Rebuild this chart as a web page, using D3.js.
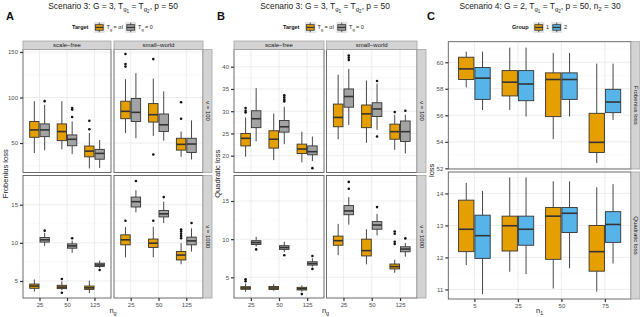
<!DOCTYPE html>
<html>
<head>
<meta charset="utf-8">
<script src="https://cdn.jsdelivr.net/npm/d3@7"></script>
<style>
  body { margin: 0; background: #fff; }
  svg { display: block; font-family: "Liberation Sans", Arial, sans-serif; }
</style>
</head>
<body>
<div id="chart"></div>
<script>
// categories
const nG = ["25", "50", "125"];
const n1 = ["5", "25", "50", "75"];
const targets = ["aI", "0"];
const groups = ["1", "2"];
const netTypes = ["scale−free", "small−world"];
const nuLabels = ["ν = 100", "ν = 1000"];
const lossLabels = ["Frobenius loss", "Quadratic loss"];

// box stats: [lower whisker, Q1, median, Q3, upper whisker, outliers]
// order: n = 25 (αI, 0), n = 50 (αI, 0), n = 125 (αI, 0)
const froSF100 = [
  [39, 56.3, 64.4, 73.7, 95.9, []],
  [42, 57, 64.4, 71, 92, [96]],
  [43, 52.6, 62.6, 71, 96, []],
  [37.8, 47, 54.1, 58.9, 73.7, [78.6, 86.7, 88.5]],
  [22, 34.8, 41.1, 46.7, 61, [65.2, 74.4]],
  [22.6, 32.2, 38.6, 43, 53.3, []]
];
const froSW100 = [
  [60.8, 76.7, 84.8, 95.9, 120, [134.1, 136.7, 147.8]],
  [55.2, 73.7, 83.7, 98.9, 126.7, []],
  [57.8, 73, 81.1, 93.3, 120.8, [37.4, 142.2]],
  [52.6, 62.6, 70, 81.9, 106.7, []],
  [34.8, 42.2, 48.5, 55.2, 62.6, [76.7, 94.8]],
  [31.9, 39.6, 48.9, 55.2, 74.8, []]
];
const froSF1000 = [
  [3.6, 4.04, 4.34, 4.6, 5.2, []],
  [9.6, 10.1, 10.4, 10.7, 11.3, [11.6]],
  [3.8, 4.0, 4.2, 4.43, 4.95, [5.26, 3.46]],
  [8.7, 9.3, 9.6, 9.87, 10.3, [10.6]],
  [3.4, 3.9, 4.1, 4.34, 5.04, []],
  [6.7, 6.9, 7.1, 7.33, 7.67, [6.45]]
];
const froSW1000 = [
  [8.1, 9.74, 10.4, 11.05, 12.1, [12.9]],
  [14.0, 14.7, 15.4, 16.0, 16.9, [18.1]],
  [8.1, 9.4, 9.96, 10.5, 12.1, [12.9]],
  [12.6, 13.4, 13.8, 14.25, 15.4, [16.0]],
  [7.2, 7.76, 8.4, 8.86, 9.96, [10.6, 10.9, 11.2, 11.5, 11.75]],
  [8.86, 9.74, 10.26, 10.75, 11.9, [12.6]]
];
const quaSF100 = [
  [19.8, 22.2, 23.9, 25.0, 28.6, [29.7, 30.1, 30.7]],
  [23.2, 26.3, 28.3, 30.1, 35.2, []],
  [19.0, 21.7, 23.7, 25.6, 29.5, []],
  [22.6, 25.3, 26.5, 27.9, 31.0, [32.2, 32.6, 33.1, 33.6]],
  [18.5, 20.5, 21.5, 22.6, 25.4, []],
  [18.8, 20.2, 20.9, 22.2, 24.3, [17.2]]
];
const quaSW100 = [
  [23.7, 26.5, 28.6, 31.6, 38.2, []],
  [26.9, 30.9, 33.3, 35.0, 39.5, [41.5, 42.0, 42.5]],
  [22.9, 26.3, 29.4, 31.4, 36.9, []],
  [25.8, 28.8, 30.5, 31.9, 36.2, [36.8, 24.3]],
  [21.3, 23.7, 25.4, 27.1, 29.2, [29.8]],
  [20.5, 23.2, 25.4, 27.8, 29.2, [30.1]]
];
const quaSF1000 = [
  [3.1, 3.43, 3.6, 3.77, 4.2, [4.48, 4.74]],
  [9.0, 9.3, 9.55, 9.8, 10.3, [8.66]],
  [3.25, 3.4, 3.6, 3.8, 4.1, []],
  [8.3, 8.66, 8.9, 9.14, 9.66, [7.9]],
  [3.12, 3.34, 3.5, 3.69, 3.95, [2.8]],
  [6.4, 6.6, 6.8, 7.04, 7.5, [7.8, 6.1]]
];
const quaSW1000 = [
  [7.9, 9.2, 9.8, 10.4, 12.0, []],
  [11.9, 13.2, 13.7, 14.4, 15.5, [16.6, 17.5]],
  [6.7, 7.8, 8.5, 10.0, 11.3, []],
  [10.5, 11.3, 11.85, 12.3, 13.3, [14.2]],
  [5.6, 6.1, 6.4, 6.74, 7.3, [9.36, 9.66, 10.7, 11.0]],
  [7.7, 8.35, 8.7, 9.0, 9.5, [10.1]]
];
// scenario 4, order: n1 = 5 (group 1, 2), 25, 50, 75
const s4Fro = [
  [58.1, 58.7, 59.5, 60.38, 60.8, []],
  [56.4, 57.2, 58.8, 59.6, 60.8, []],
  [56.4, 57.46, 58.5, 59.37, 61.1, []],
  [55.9, 57.1, 58.36, 59.37, 61.1, []],
  [54.2, 55.9, 58.7, 59.2, 60.7, []],
  [55.9, 57.2, 58.7, 59.2, 60.7, []],
  [52.4, 53.2, 53.96, 56.15, 59.9, []],
  [55.65, 56.2, 57.0, 57.96, 59.9, []]
];
const s4Qua = [
  [11.76, 12.18, 12.88, 13.79, 14.33, []],
  [10.85, 11.97, 12.68, 13.32, 14.08, []],
  [11.55, 12.2, 12.99, 13.29, 14.5, []],
  [11.48, 12.38, 12.88, 13.29, 14.5, []],
  [11.03, 11.94, 13.29, 13.56, 14.38, []],
  [11.66, 12.78, 13.38, 13.56, 14.38, []],
  [10.93, 11.57, 12.18, 13.0, 14.19, []],
  [11.81, 12.47, 13.03, 13.43, 14.29, []]
];
// y ticks
const ticksFro100 = [50, 100, 150];
const ticksFro1000 = [5, 10, 15];
const ticksQua100 = [20, 25, 30, 35, 40];
const ticksQua1000 = [5, 10, 15];
const ticksS4Fro = [52, 54, 56, 58, 60];
const ticksS4Qua = [11, 12, 13, 14];

const orange = "#E69F00", grey = "#A3A3A3", blue = "#56B4E9";
const fillTarget = d3.scaleOrdinal().domain(targets).range([orange, grey]);
const fillGroup = d3.scaleOrdinal().domain(groups).range([orange, blue]);

const svg = d3.select("#chart").append("svg")
    .attr("width", 640)
    .attr("height", 317);

function toBoxes(stats, cats, grps) {
  return stats.map((s, i) => ({
    cat: cats[Math.floor(i / grps.length)],
    grp: grps[i % grps.length],
    lo: s[0], q1: s[1], med: s[2], q3: s[3], hi: s[4], out: s[5]
  }));
}

// text with sub / sub-sub scripts, parts = [[text, level], ...]
function rich(sel, parts, size) {
  let cur = 0;
  parts.forEach(([t, lvl]) => {
    const off = [0, 0.28, 0.48][lvl] * size;
    sel.append("tspan")
        .attr("dy", off - cur)
        .attr("font-size", [1, 0.72, 0.55][lvl] * size)
        .text(t);
    cur = off;
  });
}

function facet(g, x0, x1, y0, y1, domain, ticks, cats, grps, fill, boxes, showY, showX) {
  const x = d3.scalePoint().domain(cats).range([x0, x1]).padding(0.6);
  const dodge = d3.scaleBand().domain(grps)
      .range([-0.375 * x.step(), 0.375 * x.step()]);
  const y = d3.scaleLinear().domain(domain).range([y1, y0]);

  g.append("rect").attr("x", x0).attr("y", y0)
      .attr("width", x1 - x0).attr("height", y1 - y0).attr("fill", "#fff");

  // minor grid at midpoints
  const step = ticks[1] - ticks[0];
  const minor = d3.range(ticks[0] - step / 2, domain[1], step)
      .filter(v => v > domain[0] && v < domain[1]);
  g.append("g").selectAll("line").data(minor).join("line")
      .attr("x1", x0).attr("x2", x1)
      .attr("y1", d => y(d)).attr("y2", d => y(d))
      .attr("stroke", "#f4f4f4").attr("stroke-width", 0.5);
  g.append("g").selectAll("line").data(ticks).join("line")
      .attr("x1", x0).attr("x2", x1)
      .attr("y1", d => y(d)).attr("y2", d => y(d))
      .attr("stroke", "#e8e8e8").attr("stroke-width", 0.8);
  g.append("g").selectAll("line").data(cats).join("line")
      .attr("x1", d => x(d)).attr("x2", d => x(d))
      .attr("y1", y0).attr("y2", y1)
      .attr("stroke", "#e8e8e8").attr("stroke-width", 0.8);

  const bw = dodge.bandwidth();
  const box = g.append("g").selectAll("g").data(boxes).join("g")
      .attr("transform", d => `translate(${x(d.cat) + dodge(d.grp) + bw / 2},0)`);

  box.append("line")
      .attr("y1", d => y(d.hi)).attr("y2", d => y(d.q3))
      .attr("stroke", "#333").attr("stroke-width", 0.9);
  box.append("line")
      .attr("y1", d => y(d.q1)).attr("y2", d => y(d.lo))
      .attr("stroke", "#333").attr("stroke-width", 0.9);
  box.append("rect")
      .attr("x", -bw / 2 + 0.5).attr("width", bw - 1)
      .attr("y", d => y(d.q3))
      .attr("height", d => Math.max(0.5, y(d.q1) - y(d.q3)))
      .attr("fill", d => fill(d.grp))
      .attr("stroke", "#333").attr("stroke-width", 0.9);
  box.append("line")
      .attr("x1", -bw / 2 + 0.5).attr("x2", bw / 2 - 0.5)
      .attr("y1", d => y(d.med)).attr("y2", d => y(d.med))
      .attr("stroke", "#333").attr("stroke-width", 1.6);
  box.selectAll("circle").data(d => d.out).join("circle")
      .attr("cy", d => y(d)).attr("r", 1.3).attr("fill", "#111");

  g.append("rect").attr("x", x0).attr("y", y0)
      .attr("width", x1 - x0).attr("height", y1 - y0)
      .attr("fill", "none").attr("stroke", "#5c5c5c").attr("stroke-width", 0.9);

  if (showY) {
    const ax = g.append("g").attr("transform", `translate(${x0},0)`)
        .call(d3.axisLeft(y).tickValues(ticks).tickFormat(d3.format("d"))
            .tickSize(3).tickPadding(2));
    styleAxis(ax);
  }
  if (showX) {
    const ax = g.append("g").attr("transform", `translate(0,${y1})`)
        .call(d3.axisBottom(x).tickSize(3).tickPadding(2));
    styleAxis(ax);
  }
}

function styleAxis(ax) {
  ax.attr("font-family", null).attr("font-size", null);
  ax.select(".domain").remove();
  ax.selectAll(".tick line").attr("stroke", "#333").attr("stroke-width", 1.2);
  ax.selectAll(".tick text").attr("fill", "#4d4d4d").attr("font-size", 6);
}

function topStrip(g, x0, x1, y0, y1, label) {
  g.append("rect").attr("x", x0).attr("y", y0)
      .attr("width", x1 - x0).attr("height", y1 - y0)
      .attr("fill", "#d3d3d3").attr("stroke", "#a5a5a5").attr("stroke-width", 0.8);
  g.append("text").attr("x", (x0 + x1) / 2).attr("y", (y0 + y1) / 2)
      .attr("text-anchor", "middle").attr("dominant-baseline", "central")
      .attr("font-size", 6).attr("fill", "#1a1a1a").text(label);
}

function sideStrip(g, x0, x1, y0, y1, label) {
  g.append("rect").attr("x", x0).attr("y", y0)
      .attr("width", x1 - x0).attr("height", y1 - y0)
      .attr("fill", "#d3d3d3").attr("stroke", "#a5a5a5").attr("stroke-width", 0.8);
  g.append("text")
      .attr("transform", `translate(${(x0 + x1) / 2},${(y0 + y1) / 2}) rotate(90)`)
      .attr("text-anchor", "middle").attr("dominant-baseline", "central")
      .attr("font-size", 6).attr("fill", "#1a1a1a").text(label);
}

function legendKey(g, x, y, fill) {
  g.append("rect").attr("x", x).attr("y", y).attr("width", 11.5).attr("height", 11.5)
      .attr("fill", "#e4e4e4").attr("stroke", "#fff").attr("stroke-width", 0.6);
  g.append("line").attr("x1", x + 5.75).attr("x2", x + 5.75)
      .attr("y1", y + 1).attr("y2", y + 10.5).attr("stroke", "#333").attr("stroke-width", 0.8);
  g.append("rect").attr("x", x + 1.8).attr("y", y + 3).attr("width", 7.9).attr("height", 5.5)
      .attr("fill", fill).attr("stroke", "#333").attr("stroke-width", 0.8);
  g.append("line").attr("x1", x + 1.8).attr("x2", x + 9.7)
      .attr("y1", y + 5.75).attr("y2", y + 5.75).attr("stroke", "#333").attr("stroke-width", 1.3);
}

const title3 = [["Scenario 3: G = 3, T", 0], ["g", 1], ["1", 2], [" = T", 0], ["g", 1], ["2", 2], [", p = 50", 0]];
const title4 = [["Scenario 4: G = 2, T", 0], ["g", 1], ["1", 2], [" = T", 0], ["g", 1], ["2", 2], [", p = 50, n", 0], ["2", 1], [" = 30", 0]];

const panels = [
  { letter: "A", lx: 6, title: title3, tx: 113, cols: [[23, 111], [114, 203]], strip: [203, 212],
    rows: [[49.5, 172.5], [175.5, 298]], domains: [[17.6, 152.75], [2.77, 18.83]],
    ticks: [ticksFro100, ticksFro1000], data: [[froSF100, froSW100], [froSF1000, froSW1000]],
    colLabels: netTypes, rowLabels: nuLabels, cats: nG, grps: targets, fill: fillTarget,
    ytitle: lossLabels[0], ytx: 7.5, xsub: "g", legend: { x: 72, title: "Target" } },
  { letter: "B", lx: 217, title: title3, tx: 325, cols: [[234, 324], [326.5, 417]], strip: [417, 426],
    rows: [[49.5, 172.5], [175.5, 298]], domains: [[16.22, 43.87], [2.29, 18.34]],
    ticks: [ticksQua100, ticksQua1000], data: [[quaSF100, quaSW100], [quaSF1000, quaSW1000]],
    colLabels: netTypes, rowLabels: nuLabels, cats: nG, grps: targets, fill: fillTarget,
    ytitle: lossLabels[1], ytx: 219.5, xsub: "g", legend: { x: 283, title: "Target" } },
  { letter: "C", lx: 427, title: title4, tx: 540, cols: [[448.3, 631]], strip: [631, 640],
    rows: [[41.7, 169], [172, 299]], domains: [[51.95, 61.55], [10.7, 14.67]],
    ticks: [ticksS4Fro, ticksS4Qua], data: [[s4Fro], [s4Qua]],
    colLabels: null, rowLabels: lossLabels, cats: n1, grps: groups, fill: fillGroup,
    ytitle: "loss", ytx: 434, xsub: "1", legend: { x: 512, title: "Group" } }
];

panels.forEach(p => {
  const g = svg.append("g");

  g.append("text").attr("x", p.lx).attr("y", 19.5)
      .attr("font-size", 11).attr("font-weight", "bold").attr("fill", "#111").text(p.letter);

  const t = g.append("text").attr("x", p.tx).attr("y", 8.5)
      .attr("text-anchor", "middle").attr("font-size", 8.4).attr("fill", "#1a1a1a");
  rich(t, p.title, 8.4);

  // legend
  const lg = g.append("g");
  lg.append("text").attr("x", p.legend.x).attr("y", 29.3)
      .attr("font-size", 5.5).attr("font-weight", "bold").attr("fill", "#111").text(p.legend.title);
  if (p.grps === targets) {
    const lx = p.legend.x;
    legendKey(lg, lx + 21.5, 21.7, p.fill(p.grps[0]));
    const l1 = lg.append("text").attr("x", lx + 34.5).attr("y", 29.3).attr("font-size", 5.5).attr("fill", "#1a1a1a");
    rich(l1, [["T", 0], ["g", 1], [" = αI", 0]], 5.5);
    legendKey(lg, lx + 53, 21.7, p.fill(p.grps[1]));
    const l2 = lg.append("text").attr("x", lx + 66).attr("y", 29.3).attr("font-size", 5.5).attr("fill", "#1a1a1a");
    rich(l2, [["T", 0], ["g", 1], [" = 0", 0]], 5.5);
  } else {
    const lx = p.legend.x;
    legendKey(lg, lx + 21, 21.7, p.fill(p.grps[0]));
    lg.append("text").attr("x", lx + 34).attr("y", 29.3).attr("font-size", 5.5).attr("fill", "#1a1a1a").text(p.grps[0]);
    legendKey(lg, lx + 39, 21.7, p.fill(p.grps[1]));
    lg.append("text").attr("x", lx + 52).attr("y", 29.3).attr("font-size", 5.5).attr("fill", "#1a1a1a").text(p.grps[1]);
  }

  p.rows.forEach((r, ri) => {
    p.cols.forEach((c, ci) => {
      const boxes = toBoxes(p.data[ri][ci], p.cats, p.grps);
      facet(g, c[0], c[1], r[0], r[1], p.domains[ri], p.ticks[ri], p.cats, p.grps, p.fill,
          boxes, ci === 0, ri === p.rows.length - 1);
    });
    sideStrip(g, p.strip[0], p.strip[1], r[0], r[1], p.rowLabels[ri]);
  });
  if (p.colLabels) {
    p.cols.forEach((c, ci) => topStrip(g, c[0], c[1], 41, 49.5, p.colLabels[ci]));
  }

  const yc = (p.rows[0][0] + p.rows[1][1]) / 2;
  g.append("text").attr("transform", `translate(${p.ytx},${yc}) rotate(-90)`)
      .attr("text-anchor", "middle").attr("font-size", 7.5).attr("fill", "#1a1a1a").text(p.ytitle);

  const xc = (p.cols[0][0] + p.cols[p.cols.length - 1][1]) / 2;
  const xt = g.append("text").attr("x", xc).attr("y", 313)
      .attr("text-anchor", "middle").attr("font-size", 7.5).attr("fill", "#1a1a1a");
  rich(xt, [["n", 0], [p.xsub, 1]], 7.5);
});
</script>
</body>
</html>
